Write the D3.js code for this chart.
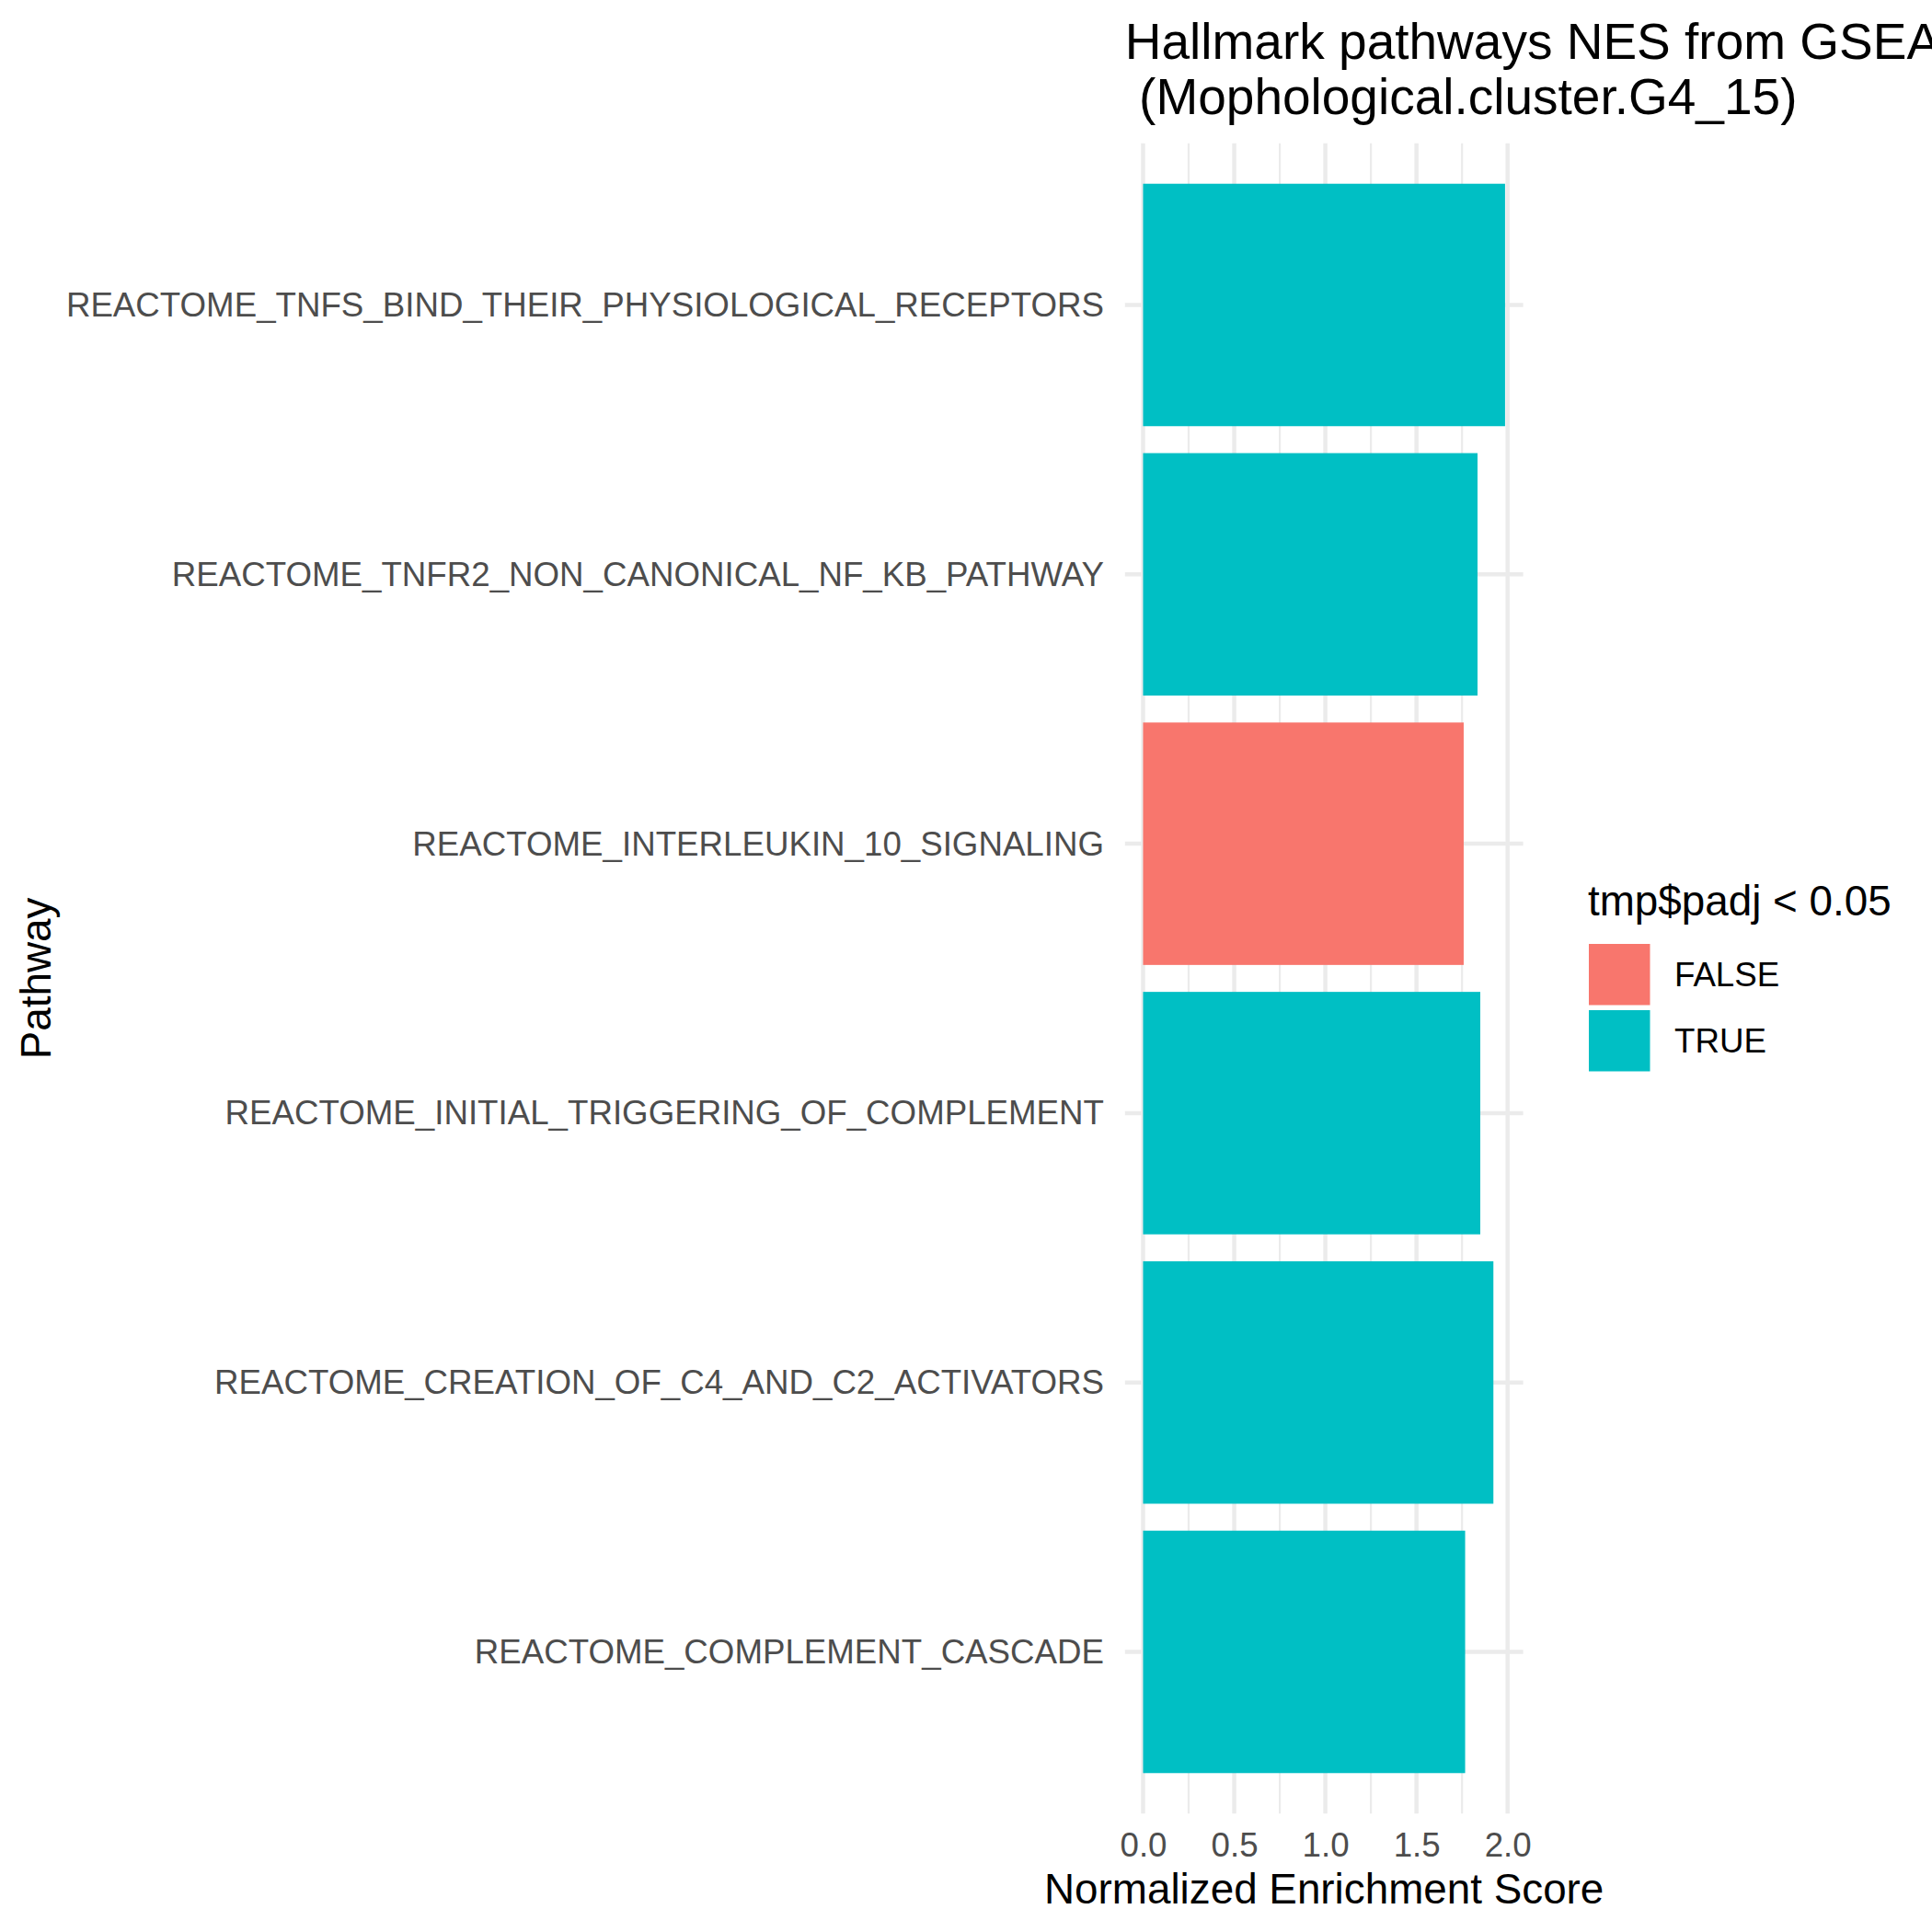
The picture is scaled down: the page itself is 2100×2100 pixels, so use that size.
<!DOCTYPE html>
<html>
<head>
<meta charset="utf-8">
<script src="https://cdn.jsdelivr.net/npm/d3@7"></script>
<style>
  html, body { margin: 0; padding: 0; background: #ffffff; }
  svg { display: block; }
  text { font-family: "Liberation Sans", Arial, Helvetica, sans-serif; }
</style>
</head>
<body>
<svg id="chart" width="2100" height="2100"></svg>
<script>
// ---- Data ----
const pathways = [
  "REACTOME_TNFS_BIND_THEIR_PHYSIOLOGICAL_RECEPTORS",
  "REACTOME_TNFR2_NON_CANONICAL_NF_KB_PATHWAY",
  "REACTOME_INTERLEUKIN_10_SIGNALING",
  "REACTOME_INITIAL_TRIGGERING_OF_COMPLEMENT",
  "REACTOME_CREATION_OF_C4_AND_C2_ACTIVATORS",
  "REACTOME_COMPLEMENT_CASCADE"
];
const nesValues = [1.986, 1.835, 1.759, 1.850, 1.922, 1.767];
const significant = [true, true, false, true, true, true];
const xTicks = [0, 0.5, 1.0, 1.5, 2.0];
const xMinorTicks = [0.25, 0.75, 1.25, 1.75];
const legendLevels = ["FALSE", "TRUE"];
const titleLines = ["Hallmark pathways NES from GSEA", " (Mophological.cluster.G4_15)"];
const xTitle = "Normalized Enrichment Score";
const yTitle = "Pathway";
const legendTitle = "tmp$padj < 0.05";

const data = pathways.map((p, i) => ({ pathway: p, nes: nesValues[i], sig: significant[i] }));

// ---- Layout ----
const svg = d3.select("#chart");
const panel = { left: 1222.8, right: 1655.6, top: 155.8, bottom: 1971.2 };
const colors = { "FALSE": "#F8766D", "TRUE": "#00BFC4" };
const gridColor = "#EBEBEB";

const maxV = d3.max(nesValues);
const x = d3.scaleLinear()
  .domain([-0.05 * maxV, maxV * 1.05])
  .range([panel.left, panel.right]);

const y = d3.scaleBand()
  .domain(pathways)
  .range([panel.top, panel.bottom])
  .paddingInner(0.1)
  .paddingOuter(0.15);

// background
svg.append("rect").attr("width", 2100).attr("height", 2100).attr("fill", "#ffffff");

// minor vertical grid
svg.append("g").selectAll("line").data(xMinorTicks).join("line")
  .attr("x1", d => x(d)).attr("x2", d => x(d))
  .attr("y1", panel.top).attr("y2", panel.bottom)
  .attr("stroke", gridColor).attr("stroke-width", 2.2);

// major vertical grid
svg.append("g").selectAll("line").data(xTicks).join("line")
  .attr("x1", d => x(d)).attr("x2", d => x(d))
  .attr("y1", panel.top).attr("y2", panel.bottom)
  .attr("stroke", gridColor).attr("stroke-width", 4.45);

// major horizontal grid
svg.append("g").selectAll("line").data(pathways).join("line")
  .attr("x1", panel.left).attr("x2", panel.right)
  .attr("y1", d => y(d) + y.bandwidth() / 2).attr("y2", d => y(d) + y.bandwidth() / 2)
  .attr("stroke", gridColor).attr("stroke-width", 4.45);

// bars
svg.append("g").selectAll("rect").data(data).join("rect")
  .attr("x", x(0))
  .attr("y", d => y(d.pathway))
  .attr("width", d => x(d.nes) - x(0))
  .attr("height", y.bandwidth())
  .attr("fill", d => colors[String(d.sig).toUpperCase()]);

// y axis labels
const yAxis = d3.axisLeft(y).tickSize(0).tickPadding(0);
const yg = svg.append("g").attr("transform", `translate(1200,0)`).call(yAxis);
yg.select(".domain").remove();
yg.selectAll("text")
  .attr("font-size", 36.7)
  .attr("fill", "#4D4D4D")
  .attr("x", 0)
  .attr("dy", null)
  .attr("dominant-baseline", "central")
  .attr("text-anchor", "end");

// x axis labels
const xAxis = d3.axisBottom(x).tickValues(xTicks).tickFormat(d3.format(".1f")).tickSize(0).tickPadding(0);
const xg = svg.append("g").attr("transform", `translate(0,0)`).call(xAxis);
xg.select(".domain").remove();
xg.selectAll("text")
  .attr("font-size", 36.7)
  .attr("fill", "#4D4D4D")
  .attr("y", 2018)
  .attr("dy", null)
  .attr("text-anchor", "middle");

// axis titles
svg.append("text")
  .attr("x", (panel.left + panel.right) / 2)
  .attr("y", 2069)
  .attr("text-anchor", "middle")
  .attr("font-size", 45.8)
  .attr("fill", "#000")
  .text(xTitle);

svg.append("text")
  .attr("transform", `translate(55,${(panel.top + panel.bottom) / 2}) rotate(-90)`)
  .attr("text-anchor", "middle")
  .attr("font-size", 45.8)
  .attr("fill", "#000")
  .text(yTitle);

// title
svg.append("g").selectAll("text").data(titleLines).join("text")
  .attr("x", panel.left)
  .attr("y", (d, i) => 64 + i * 60)
  .attr("font-size", 55)
  .attr("fill", "#000")
  .attr("xml:space", "preserve")
  .style("white-space", "pre")
  .text(d => d);

// legend
const lg = svg.append("g");
lg.append("text")
  .attr("x", 1726)
  .attr("y", 995)
  .attr("font-size", 45.8)
  .attr("fill", "#000")
  .text(legendTitle);

const keyTop = [1026, 1098];
const keySize = 66.5;
lg.selectAll("rect.key").data(legendLevels).join("rect")
  .attr("class", "key")
  .attr("x", 1727)
  .attr("y", (d, i) => keyTop[i])
  .attr("width", keySize)
  .attr("height", keySize)
  .attr("fill", d => colors[d]);

lg.selectAll("text.lab").data(legendLevels).join("text")
  .attr("class", "lab")
  .attr("x", 1820)
  .attr("y", (d, i) => keyTop[i] + keySize / 2 + 13.1)
  .attr("font-size", 36.7)
  .attr("fill", "#000")
  .text(d => d);
</script>
</body>
</html>
